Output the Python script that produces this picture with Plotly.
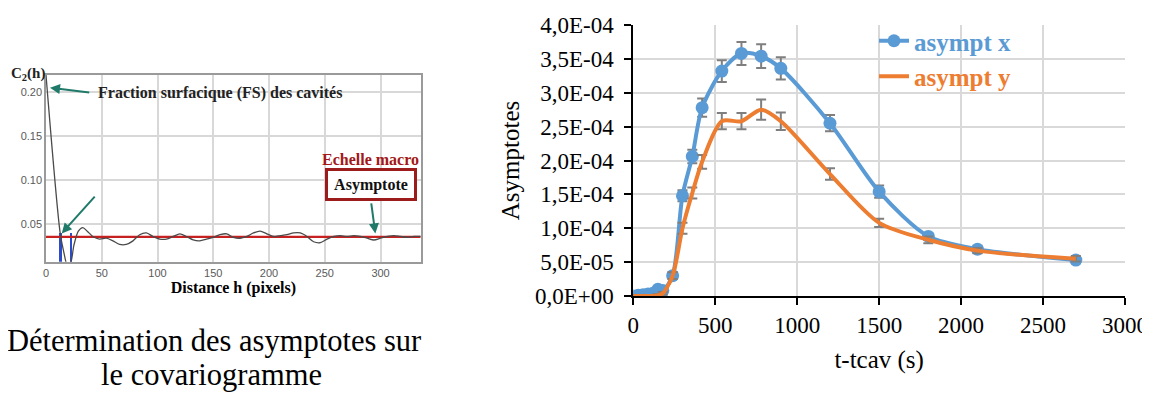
import plotly.graph_objects as go

# ---------------- Right chart data ----------------
t_s = [0, 30, 60, 90, 120, 150, 180, 240, 300, 360, 420, 540, 660, 780, 900, 1200, 1500, 1800, 2100, 2700]
asympt_x = [0.0, 0.1e-5, 0.2e-5, 0.3e-5, 0.4e-5, 1.0e-5, 0.8e-5, 3.0e-5, 1.48e-4, 2.06e-4, 2.78e-4,
            3.32e-4, 3.58e-4, 3.54e-4, 3.36e-4, 2.55e-4, 1.54e-4, 0.88e-4, 0.69e-4, 0.53e-4]
err_x = [0.1e-5, 0.1e-5, 0.1e-5, 0.1e-5, 0.2e-5, 0.3e-5, 0.3e-5, 0.5e-5, 0.8e-5, 1.0e-5, 1.35e-5,
         1.6e-5, 1.7e-5, 1.75e-5, 1.65e-5, 1.2e-5, 0.9e-5, 0.5e-5, 0.5e-5, 0.4e-5]
asympt_y = [0.0, 0.0, 0.0, 0.0, 0.0, 0.1e-5, 0.4e-5, 3.0e-5, 1.0e-4, 1.52e-4, 1.98e-4,
            2.58e-4, 2.58e-4, 2.75e-4, 2.58e-4, 1.80e-4, 1.08e-4, 0.83e-4, 0.67e-4, 0.55e-4]
err_y = [0.1e-5, 0.1e-5, 0.1e-5, 0.1e-5, 0.1e-5, 0.2e-5, 0.2e-5, 0.5e-5, 0.8e-5, 0.8e-5, 1.0e-5,
         1.2e-5, 1.2e-5, 1.5e-5, 1.3e-5, 0.85e-5, 0.6e-5, 0.5e-5, 0.4e-5, 0.4e-5]
y_tickvals = [0, 5e-5, 1e-4, 1.5e-4, 2e-4, 2.5e-4, 3e-4, 3.5e-4, 4e-4]
y_ticktext = ["0,0E+00", "5,0E-05", "1,0E-04", "1,5E-04", "2,0E-04", "2,5E-04", "3,0E-04", "3,5E-04", "4,0E-04"]
x_tickvals = [0, 500, 1000, 1500, 2000, 2500, 3000]

# ---------------- Left chart (covariogram) data ----------------
cov_h = [0, 12.6, 16, 19, 22, 25, 29, 33, 37, 42, 48, 54, 60, 66, 72, 78, 84, 90, 96, 102, 108, 114,
         120, 126, 132, 138, 144, 150, 156, 162, 168, 174, 180, 186, 192, 198, 204, 210, 216, 222, 228,
         234, 240, 246, 252, 258, 264, 270, 276, 282, 288, 294, 300, 306, 312, 318, 324, 330, 336]
cov_c = [0.219, 0.041, 0.018, 0.004, 0.006, 0.026, 0.042, 0.046, 0.042, 0.036, 0.033, 0.034, 0.031,
         0.027, 0.027, 0.031, 0.038, 0.040, 0.036, 0.033, 0.033, 0.036, 0.039, 0.036, 0.032, 0.031,
         0.033, 0.035, 0.038, 0.039, 0.035, 0.034, 0.036, 0.040, 0.042, 0.039, 0.036, 0.037, 0.038,
         0.040, 0.040, 0.036, 0.030, 0.029, 0.033, 0.036, 0.037, 0.036, 0.037, 0.036, 0.034, 0.032,
         0.034, 0.036, 0.037, 0.036, 0.035, 0.036, 0.036]
asymptote_level = 0.0355
marker_h = [12.6, 22.4]
marker_c = [0.040, 0.040]
cov_xticks = [0, 50, 100, 150, 200, 250, 300]
cov_yticks = [0.05, 0.10, 0.15, 0.20]
cov_yticktext = ["0.05", "0.10", "0.15", "0.20"]

BLUE = "#5b9bd5"
ORANGE = "#ed7d31"
SERIF = "Liberation Serif"
SANS = "Liberation Sans"
# the page body has an 8px margin: the figure is laid out in page pixels shifted by 8px
OFF = 8
W, H = 1150 - OFF, 398 - OFF


def PX(px):
    return (px - OFF) / W


def PY(py):
    return 1 - (py - OFF) / H


fig = go.Figure()

# left panel traces
fig.add_trace(go.Bar(x=marker_h, y=marker_c, width=2.6, marker=dict(color="#2a4cc8", line=dict(width=0)),
                     xaxis="x2", yaxis="y2", showlegend=False, hoverinfo="skip"))
fig.add_trace(go.Scatter(x=[0, 336], y=[asymptote_level, asymptote_level], mode="lines",
                         line=dict(color="#c62020", width=2.2), xaxis="x2", yaxis="y2",
                         showlegend=False, hoverinfo="skip"))
fig.add_trace(go.Scatter(x=cov_h, y=cov_c, mode="lines", line=dict(color="#4a4a4a", width=1.3, shape="spline", smoothing=0.8),
                         xaxis="x2", yaxis="y2", showlegend=False, hoverinfo="skip"))

# right panel traces
err_style = dict(type="data", visible=True, color="#7f7f7f", thickness=2, width=5)
fig.add_trace(go.Scatter(x=t_s, y=asympt_x, mode="lines+markers",
                         name="<span style='color:%s'><b>asympt x</b></span>" % BLUE,
                         line=dict(color=BLUE, width=4, shape="spline", smoothing=0.8),
                         marker=dict(color=BLUE, size=13),
                         error_y=dict(array=err_x, **err_style), xaxis="x", yaxis="y"))
fig.add_trace(go.Scatter(x=t_s, y=asympt_y, mode="lines",
                         name="<span style='color:%s'><b>asympt y</b></span>" % ORANGE,
                         line=dict(color=ORANGE, width=4, shape="spline", smoothing=0.8),
                         error_y=dict(array=err_y, **err_style), xaxis="x", yaxis="y"))

fig.update_layout(
    width=W, height=H,
    margin=dict(l=0, r=0, t=0, b=0, autoexpand=False),
    paper_bgcolor="white", plot_bgcolor="white",
    font=dict(family=SERIF, color="black"),
    bargap=0,
    xaxis=dict(domain=[PX(633.3), PX(1125)], range=[0, 3000], tickvals=x_tickvals,
               showgrid=True, gridcolor="#d9d9d9", gridwidth=1.6,
               showline=True, linecolor="black", linewidth=2,
               ticks="outside", ticklen=7, tickwidth=2, tickcolor="black",
               tickfont=dict(family=SERIF, size=23, color="black"), ticklabelstandoff=0,
               ticklabeloverflow="allow",
               zeroline=False, anchor="y", automargin=False,
               title=dict(text="t-tcav (s)", font=dict(family=SERIF, size=25), standoff=14)),
    yaxis=dict(domain=[PY(296), PY(25)], range=[0, 4e-4], tickvals=y_tickvals, ticktext=y_ticktext,
               showgrid=True, gridcolor="#d9d9d9", gridwidth=1.6,
               showline=True, linecolor="black", linewidth=2,
               ticks="outside", ticklen=7, tickwidth=2, tickcolor="black",
               tickfont=dict(family=SERIF, size=23, color="black"), ticklabelstandoff=6,
               zeroline=False, anchor="x", automargin=False,
               title=dict(text="Asymptotes", font=dict(family=SERIF, size=25), standoff=8)),
    xaxis2=dict(domain=[PX(46), PX(420.7)], range=[0, 336], tickvals=cov_xticks,
                showgrid=True, gridcolor="#d8d8d8", gridwidth=2,
                showline=True, mirror=True, linecolor="#9a9a9a", linewidth=1.5,
                ticks="", tickfont=dict(family=SANS, size=11, color="#5a5a5a"),
                zeroline=False, anchor="y2", automargin=False,
                title=dict(text="<b>Distance h (pixels)</b>", font=dict(family=SERIF, size=16), standoff=4)),
    yaxis2=dict(domain=[PY(261.7), PY(75)], range=[0.0074, 0.219], tickvals=cov_yticks, ticktext=cov_yticktext,
                showgrid=True, gridcolor="#d8d8d8", gridwidth=2,
                showline=True, mirror=True, linecolor="#9a9a9a", linewidth=1.5,
                ticks="", tickfont=dict(family=SANS, size=11, color="#5a5a5a"),
                zeroline=False, anchor="x2", automargin=False),
    legend=dict(x=PX(874), y=PY(18), xanchor="left", yanchor="top",
                font=dict(family=SERIF, size=25), bgcolor="rgba(0,0,0,0)",
                tracegroupgap=0, itemwidth=30),
    showlegend=True,
)

ARROW = "#1f7a6a"
ann = []
# arrows on covariogram
for (hx, hy, tx, ty) in [(3.6, 0.2046, 40.1, 0.199), (14.1, 0.0395, 44.9, 0.0828), (295.3, 0.0395, 291.5, 0.0752)]:
    ann.append(dict(x=hx, y=hy, ax=tx, ay=ty, xref="x2", yref="y2", axref="x2", ayref="y2",
                    text="", showarrow=True, arrowhead=2, arrowsize=1, arrowwidth=2, arrowcolor=ARROW))


def label(px, py, text, size, color, **kw):
    d = dict(x=PX(px), y=PY(py), xref="paper", yref="paper", xanchor="center", yanchor="middle",
             showarrow=False, text=text, font=dict(family=SERIF, size=size, color=color))
    d.update(kw)
    ann.append(d)


label(220, 93, "<b>Fraction surfacique (FS) des cavités</b>", 16, "#222")
label(370, 160, "<b>Echelle macro</b>", 16, "#a31818")
label(371, 184.5, "<b>Asymptote</b>", 16, "#111",
      bordercolor="#9c1b1b", borderwidth=3, borderpad=3, bgcolor="white", width=80, height=21)
label(28, 74, "<b>C<sub>2</sub>(h)</b>", 15, "#222")
label(214, 341, "Détermination des asymptotes sur", 30.5, "black")
label(211, 375, "le covariogramme", 30.5, "black")
fig.update_layout(annotations=ann)

fig.write_html("out.html")
